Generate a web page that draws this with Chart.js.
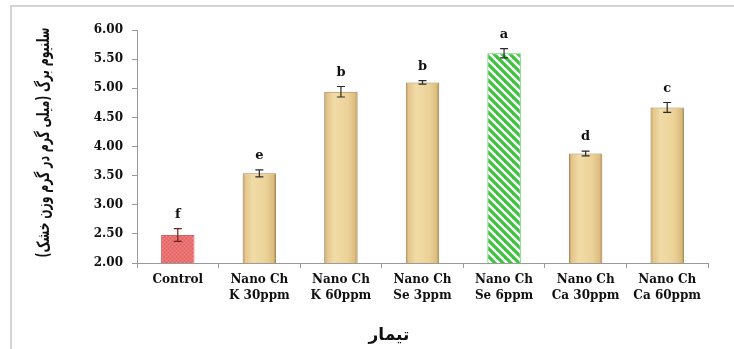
<!DOCTYPE html>
<html>
<head>
<meta charset="utf-8">
<script src="https://cdn.jsdelivr.net/npm/chart.js@4/dist/chart.umd.min.js"></script>
<style>
  html, body { margin: 0; padding: 0; background: #ffffff; }
  #wrap { position: relative; width: 734px; height: 349px; }
  #frame { position: absolute; left: 10px; top: 5px; right: 0; bottom: 0;
           border-left: 2px solid #d4d4d4; border-top: 2px solid #d4d4d4; }
  #c { position: absolute; left: 0; top: 0; }
</style>
</head>
<body>
<div id="wrap">
  <div id="frame"></div>
  <canvas id="c" width="734" height="349"></canvas>
</div>
<script>
// Treatments, leaf selenium means, standard errors and significance letters
const categories = [
  ['Control'],
  ['Nano Ch', 'K 30ppm'],
  ['Nano Ch', 'K 60ppm'],
  ['Nano Ch', 'Se 3ppm'],
  ['Nano Ch', 'Se 6ppm'],
  ['Nano Ch', 'Ca 30ppm'],
  ['Nano Ch', 'Ca 60ppm']
];
const seleniumValues = [2.48, 3.54, 4.94, 5.10, 5.60, 3.88, 4.67];
const seleniumErrors = [0.11, 0.06, 0.09, 0.03, 0.08, 0.04, 0.085];
const groupLetters = ['f', 'e', 'b', 'b', 'a', 'd', 'c'];
const yMin = 2.0, yMax = 6.0, yStep = 0.5;
const yTitle = 'سلنیوم برگ (میلی گرم در گرم وزن خشک)';
const xTitle = 'تیمار';

const labelFont = { family: '"DejaVu Serif", "Liberation Serif", serif', weight: 'bold', size: 12 };

// Fill patterns
function dottedRed() {
  const p = document.createElement('canvas');
  p.width = 4; p.height = 4;
  const g = p.getContext('2d');
  g.fillStyle = '#e97070'; g.fillRect(0, 0, 4, 4);
  g.fillStyle = '#e06060'; g.fillRect(0, 0, 1, 1); g.fillRect(2, 2, 1, 1);
  g.fillStyle = '#ef8584'; g.fillRect(2, 0, 1, 1); g.fillRect(0, 2, 1, 1);
  return g.createPattern(p, 'repeat');
}
function greenStripes() {
  const s = 8;
  const p = document.createElement('canvas');
  p.width = s; p.height = s;
  const g = p.getContext('2d');
  g.fillStyle = '#ffffff'; g.fillRect(0, 0, s, s);
  g.strokeStyle = '#3cc43c'; g.lineWidth = 3.2;
  for (let k = -1; k <= 1; k++) {
    g.beginPath();
    g.moveTo(k * s - 1, -1);
    g.lineTo(k * s + s + 1, s + 1);
    g.stroke();
  }
  return g.createPattern(p, 'repeat');
}
const ctx0 = document.getElementById('c').getContext('2d');
const redFill = dottedRed();
const greenFill = greenStripes();

const fillKinds = ['red', 'tan', 'tan', 'tan', 'green', 'tan', 'tan'];

// Cylinder-like shading for the tan bars
const barShading = {
  id: 'barShading',
  beforeDatasetsDraw(chart) {
    const ctx = chart.ctx;
    chart.getDatasetMeta(0).data.forEach((bar, i) => {
      if (fillKinds[i] !== 'tan') return;
      const l = bar.x - bar.width / 2, r = bar.x + bar.width / 2;
      const gr = ctx.createLinearGradient(l, 0, r, 0);
      gr.addColorStop(0, '#b89158');
      gr.addColorStop(0.08, '#e3c68b');
      gr.addColorStop(0.3, '#f1dba6');
      gr.addColorStop(0.7, '#ecd298');
      gr.addColorStop(0.92, '#dcbd80');
      gr.addColorStop(1, '#a8834c');
      bar.options.backgroundColor = gr;
    });
  }
};

// Error bars, letters above them and the axis titles
const errorsAndLetters = {
  id: 'errorsAndLetters',
  afterDatasetsDraw(chart) {
    const ctx = chart.ctx;
    const ys = chart.scales.y;
    const area = chart.chartArea;
    ctx.save();
    chart.getDatasetMeta(0).data.forEach((bar, i) => {
      const v = seleniumValues[i], e = seleniumErrors[i];
      const top = ys.getPixelForValue(v + e);
      const bot = ys.getPixelForValue(v - e);
      const x = bar.x, cap = 4;
      ctx.strokeStyle = i === 0 ? '#6a2020' : '#2a2a2a';
      ctx.lineWidth = 1.2;
      ctx.beginPath();
      ctx.moveTo(x, top); ctx.lineTo(x, bot);
      ctx.moveTo(x - cap, top); ctx.lineTo(x + cap, top);
      ctx.moveTo(x - cap, bot); ctx.lineTo(x + cap, bot);
      ctx.stroke();
      ctx.fillStyle = '#111';
      ctx.font = 'bold 13px "DejaVu Serif", serif';
      ctx.textAlign = 'center';
      ctx.textBaseline = 'alphabetic';
      ctx.fillText(groupLetters[i], x, top - 11);
    });
    // x-axis title
    ctx.font = 'bold 17px "DejaVu Sans", sans-serif';
    ctx.textAlign = 'center';
    ctx.textBaseline = 'middle';
    ctx.fillStyle = '#111';
    ctx.fillText(xTitle, 389, 336);
    // y-axis title, rotated and condensed along its length
    ctx.font = 'bold 15px "DejaVu Sans", sans-serif';
    const w = ctx.measureText(yTitle).width;
    const len = 230;
    ctx.translate(45, (area.top + area.bottom) / 2 - 4);
    ctx.rotate(-Math.PI / 2);
    ctx.scale(len / w, 1.15);
    ctx.fillText(yTitle, 0, 0);
    ctx.restore();
  }
};

new Chart(ctx0, {
  type: 'bar',
  data: {
    labels: categories,
    datasets: [{
      data: seleniumValues,
      backgroundColor: fillKinds.map(k => k === 'red' ? redFill : k === 'green' ? greenFill : '#ecd298'),
      borderColor: fillKinds.map(k => k === 'red' ? '#d86262' : k === 'green' ? '#5acb5a' : '#a8834c'),
      borderWidth: 1,
      barPercentage: 0.41,
      categoryPercentage: 1.0
    }]
  },
  options: {
    responsive: false,
    animation: false,
    layout: { padding: { left: 0, right: 26, top: 30, bottom: 0 } },
    plugins: { legend: { display: false }, tooltip: { enabled: false } },
    scales: {
      x: {
        grid: { display: true, drawOnChartArea: false, drawTicks: true, tickLength: 5, color: '#9a9a9a', offset: true },
        border: { display: true, color: '#9a9a9a', width: 1 },
        ticks: { color: '#111', font: { ...labelFont, lineHeight: 1.3 }, padding: 4, maxRotation: 0, autoSkip: false },
        afterFit(scale) { scale.height = 86; }
      },
      y: {
        min: yMin, max: yMax,
        grid: { display: true, drawOnChartArea: false, drawTicks: true, tickLength: 5, color: '#9a9a9a' },
        border: { display: true, color: '#9a9a9a', width: 1 },
        ticks: { stepSize: yStep, color: '#111', font: labelFont, padding: 9,
                 callback: v => Number(v).toFixed(2) },
        afterFit(scale) { scale.width = 137; }
      }
    }
  },
  plugins: [barShading, errorsAndLetters]
});
</script>
</body>
</html>
